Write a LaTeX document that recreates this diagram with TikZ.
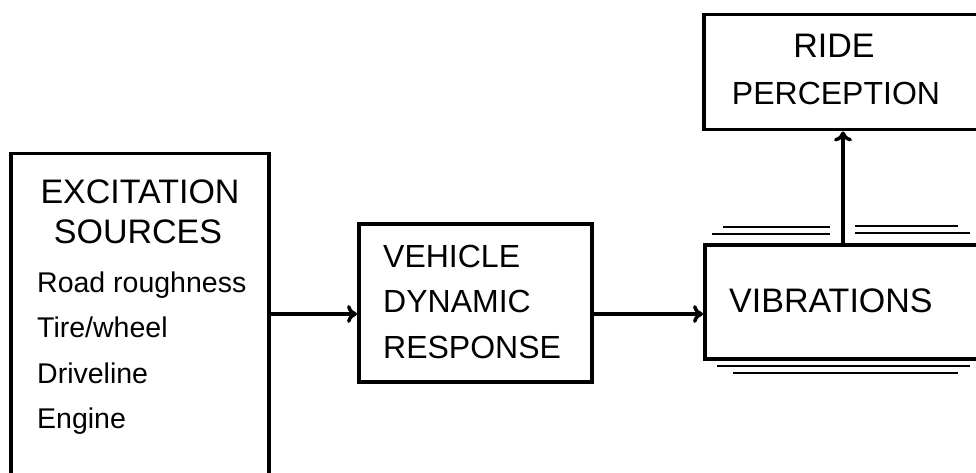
\documentclass[tikz,border=0pt]{standalone}
\usepackage{fontspec}
\setmainfont{Liberation Sans}
\usetikzlibrary{arrows.meta}

\begin{document}
\begin{tikzpicture}[
    x=1pt, y=-1pt,
    box/.style={draw, line width=3.5pt, inner sep=0pt, anchor=north west},
    caps/.style={font=\fontsize{34}{40}\selectfont, inner sep=0pt, anchor=base},
    small/.style={font=\fontsize{28.5}{34}\selectfont, inner sep=0pt, anchor=base west},
    arrow/.style={-{Computer Modern Rightarrow[length=10pt, width=18pt]}, line width=3.5pt},
    rule/.style={line width=2pt}
]
\useasboundingbox (0,0) rectangle (976,473);
\clip (0,0) rectangle (976,473);

% Boxes
\node[box, minimum width=258pt, minimum height=340pt] (exc) at (9,152) {};
\node[box, minimum width=233pt, minimum height=158pt] (veh) at (357,222) {};
\node[box, minimum width=300pt, minimum height=114pt] (vib) at (703,243) {};
\node[box, minimum width=300pt, minimum height=115pt] (ride) at (702,13) {};

% Texts
\node[caps] (excA) at (140,203) {EXCITATION};
\node[caps] (excB) at (138,243) {SOURCES};
\node[small] (road) at (37,292) {Road roughness};
\node[small] (tire) at (37,337) {Tire/wheel};
\node[small] (drive) at (37,383) {Driveline};
\node[small] (engine) at (37,428) {Engine};

\node[caps, anchor=base west, font=\fontsize{32}{38}\selectfont] (vehA) at (383,267) {VEHICLE};
\node[caps, anchor=base west, font=\fontsize{32}{38}\selectfont] (vehB) at (383,312) {DYNAMIC};
\node[caps, anchor=base west, font=\fontsize{32}{38}\selectfont] (vehC) at (383,358) {RESPONSE};

\node[caps, anchor=base west] (vibT) at (729,312) {VIBRATIONS};

\node[caps] (rideA) at (834,58) {RIDE};
\node[caps, font=\fontsize{32}{38}\selectfont] (rideB) at (836,105) {PERCEPTION};

% Arrows
\coordinate (lvl) at (0,314);
\coordinate (up) at (843,0);
\draw[arrow] (exc.east |- lvl) -- (veh.west |- lvl);
\draw[arrow] (veh.east |- lvl) -- (vib.west |- lvl);
\draw[arrow] (vib.north -| up) -- (ride.south -| up);

% Double rules above and below the vibrations box
\draw[rule] (723,227) -- (830,227);
\draw[rule] (712,234) -- (830,234);
\draw[rule] (855,226) -- (958,226);
\draw[rule] (855,233) -- (970,233);
\draw[rule] (717,366) -- (970,366);
\draw[rule] (733,373) -- (958,373);

\end{tikzpicture}
\end{document}
